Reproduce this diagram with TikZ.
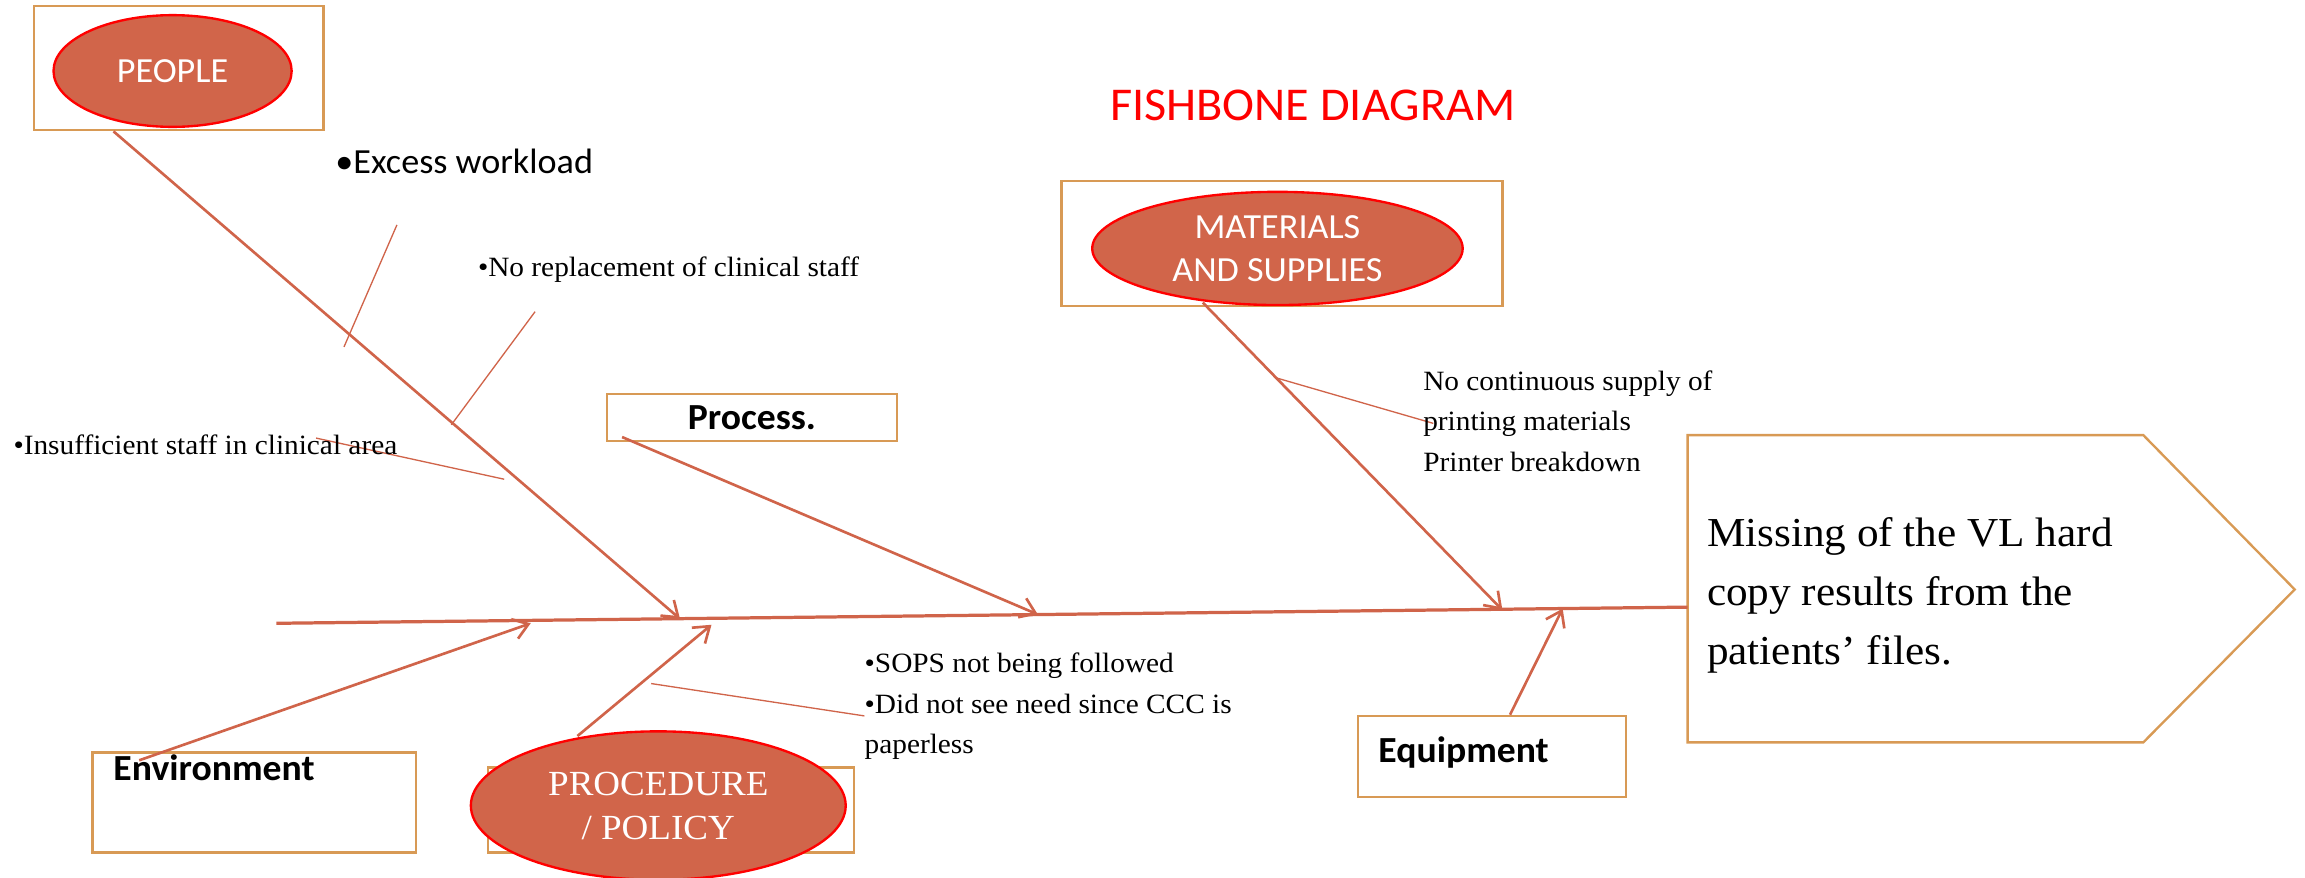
\documentclass[tikz,border=0pt]{standalone}
\usepackage{fontspec}
\setmainfont[FakeStretch=1.05]{Liberation Serif}
\newfontfamily\calibri[FakeStretch=1.025]{Carlito}
\usepackage{xcolor}
\usetikzlibrary{shapes,arrows.meta,positioning,calc}

\definecolor{bone}{HTML}{D0644A}
\definecolor{framecol}{HTML}{D89A55}
\definecolor{blobcol}{HTML}{D1654A}

\tikzset{
  catbox/.style={draw=framecol, line width=1.6pt, inner sep=0pt},
  blobnode/.style={ellipse, fill=blobcol, draw=red, line width=1.6pt, text=white, inner sep=0pt, align=center},
  bonearrow/.style={draw=bone, line width=1.8pt, -{Straight Barb[length=10pt,width=14pt]}},
  spine/.style={draw=bone, line width=2.2pt},
  twig/.style={draw=bone, line width=0.9pt},
  serlabel/.style={font=\fontsize{19}{27.5}\selectfont, inner sep=0pt, align=left},
  boldlabel/.style={font=\calibri\bfseries\fontsize{25}{30}\selectfont, inner sep=0pt},
}

\begin{document}
\begin{tikzpicture}[x=1pt, y=-1pt]
        \useasboundingbox (0,0) rectangle (1568,597);

        % Title
        \node[font=\calibri\fontsize{32}{38}\selectfont, text=red] (title) at (893,72) {FISHBONE DIAGRAM};

        % Category boxes
        \node[catbox, minimum width=197pt, minimum height=84.5pt] (peoplebox) at (121.5,46.3) {};
        \node[catbox, minimum width=300pt, minimum height=85pt] (matbox) at (872,165.5) {};
        \node[catbox, minimum width=197pt, minimum height=32pt, font=\calibri\bfseries\fontsize{25}{30}\selectfont] (processbox) at (511.5,284) {Process.};
        \node[catbox, minimum width=220pt, minimum height=68pt] (envbox) at (173,546) {};
        \node[catbox, minimum width=249pt, minimum height=58pt] (procbox) at (456.5,551) {};
        \node[catbox, minimum width=182pt, minimum height=55pt] (equipbox) at (1015,514.5) {};

        \node[boldlabel, anchor=base west] (envtext) at (77,531) {Environment};
        \node[boldlabel, anchor=base west] (equiptext) at (937.5,519) {Equipment};

        % Ellipses
        \node[blobnode, minimum width=162pt, minimum height=76pt, font=\calibri\fontsize{24}{29.5}\selectfont] (people) at (117.4,48.3) {PEOPLE};
        \node[blobnode, minimum width=252pt, minimum height=77pt, font=\calibri\fontsize{24}{29.5}\selectfont] (materials) at (869,169) {MATERIALS\\AND SUPPLIES};
        \node[blobnode, minimum width=255pt, minimum height=101pt, font=\fontsize{24}{30}\selectfont] (procedure) at (447.8,548) {PROCEDURE\\/ POLICY};

        % Effect head
        \coordinate (headTL) at (1148,296);
        \coordinate (headTR) at (1458,296);
        \coordinate (headTip) at (1561,401);
        \coordinate (headBR) at (1458,505);
        \coordinate (headBL) at (1148,505);
        \draw[draw=framecol, line width=1.6pt] (headTL) -- (headTR) -- (headTip) -- (headBR) -- (headBL) -- cycle;
        \node[font=\fontsize{28}{40}\selectfont, anchor=north west, inner sep=0pt, align=left] (effect) at (1161,352) {Missing of the VL hard\\copy results from the\\patients' files.};

        % Spine
        \coordinate (tail) at (188,424);
        \coordinate (head) at (1148,413);
        \draw[spine] (tail) -- (head);

        % Junctions on the spine
        \coordinate (jPeople) at (462.6,421);
        \coordinate (jProcess) at (706,418);
        \coordinate (jMat) at (1022,415);
        \coordinate (jEquip) at (1063,414);
        \coordinate (jEnv) at (361,424);
        \coordinate (jProc) at (484,425);

        % Main bones
        \draw[bonearrow] ($(peoplebox.south west)+(55,0)$) -- (jPeople);
        \draw[bonearrow] ($(processbox.south west)+(11,-3.5)$) -- (jProcess);
        \draw[bonearrow] ($(matbox.south west)+(97,-3)$) -- (jMat);
        \draw[bonearrow] ($(equipbox.north west)+(104,0)$) -- (jEquip);
        \draw[bonearrow] ($(envbox.north west)+(32.5,6)$) -- (jEnv);
        \draw[bonearrow] ($(procedure.north)+(-55,4)$) -- (jProc);

        % Sub-causes
        \coordinate (t1a) at (270,153);   \coordinate (t1b) at (234,236);
        \coordinate (t2a) at (364,212);   \coordinate (t2b) at (307,289);
        \coordinate (t3a) at (215,298);   \coordinate (t3b) at (343,326);
        \coordinate (t4a) at (868,257);   \coordinate (t4b) at (975,288);
        \coordinate (t5a) at (443,465);   \coordinate (t5b) at (588,487);
        \draw[twig] (t1a) -- (t1b);
        \draw[twig] (t2a) -- (t2b);
        \draw[twig] (t3a) -- (t3b);
        \draw[twig] (t4a) -- (t4b);
        \draw[twig] (t5a) -- (t5b);

        % Cause texts
        \node[font=\calibri\fontsize{24}{28}\selectfont, anchor=base west, inner sep=0pt] (excess) at (228,118) {•Excess workload};
        \node[serlabel, anchor=base west] (norepl) at (325,188) {•No replacement of clinical staff};
        \node[serlabel, anchor=base west] (insuff) at (9,309) {•Insufficient staff in clinical area};
        \node[serlabel, anchor=north west] (supply) at (968,252) {No continuous supply of\\printing materials\\Printer breakdown};
        \node[serlabel, anchor=north west] (sops) at (588,444) {•SOPS not being followed\\•Did not see need since CCC is\\paperless};
      \end{tikzpicture}
\end{document}
